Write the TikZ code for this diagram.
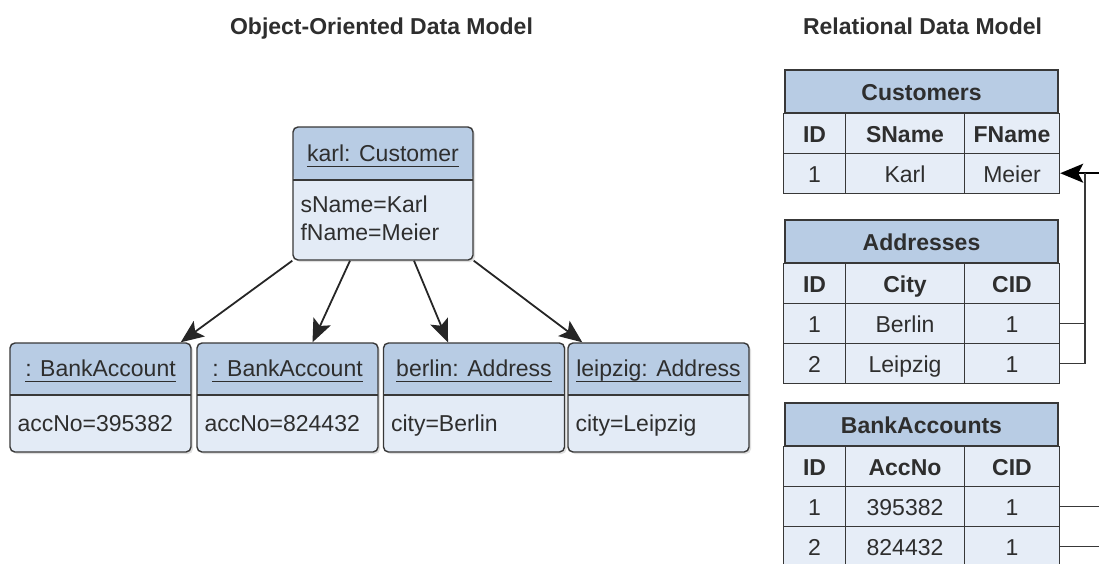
\documentclass[tikz,border=0pt]{standalone}
\usepackage{fontspec}
\setmainfont{Liberation Sans}
\usetikzlibrary{positioning,matrix,shadows,arrows.meta}

\definecolor{headc}{HTML}{B8CCE4}
\definecolor{bodyc}{HTML}{E3EBF6}
\definecolor{rowc}{HTML}{E6EDF7}
\definecolor{linec}{HTML}{383838}
\definecolor{textc}{HTML}{2E2E2E}

\tikzset{
  heading/.style={anchor=base, inner sep=0pt, font=\bfseries, text=textc},
  objbox/.style={draw=linec, line width=1.4pt, rounded corners=5pt, fill=bodyc, inner sep=0pt,
    drop shadow={shadow xshift=2pt, shadow yshift=-2pt, opacity=0.25},
    path picture={
      \fill[headc] (path picture bounding box.north west) rectangle ([yshift=-#1]path picture bounding box.north east);
      \draw[linec, line width=1.4pt] ([yshift=-#1]path picture bounding box.north west) -- ([yshift=-#1]path picture bounding box.north east);
    }},
  objtitle/.style={anchor=base, inner sep=0pt, text=textc},
  objattr/.style={anchor=base west, inner sep=0pt, text=textc},
  uline/.style={draw=textc, line width=1.3pt},
  objarrow/.style={->, line width=1.8pt, draw=black!85},
  tabcell/.style={draw=linec, line width=1.4pt, fill=rowc, minimum height=40, inner sep=0pt,
    anchor=center, text height=18pt, text depth=0pt, text=textc},
  tabhead/.style={tabcell, fill=headc, minimum width=273, minimum height=43, font=\bfseries},
  reltable/.style={matrix of nodes, inner sep=0pt, nodes={tabcell}, column sep=-1.4pt, row sep=-1.4pt,
    column 1/.style={nodes={minimum width=62}},
    column 2/.style={nodes={minimum width=119}},
    column 3/.style={nodes={minimum width=95}},
    row 1/.style={nodes={font=\bfseries}}},
  link/.style={draw=linec, line width=1.4pt}
}

\begin{document}
\fontsize{23}{28}\selectfont
\begin{tikzpicture}[x=1pt, y=-1pt, >={Stealth[length=23pt,width=19pt,inset=5pt]}]
\useasboundingbox (0,0) rectangle (1099,563);

% headings
\node[heading] (oo-title) at (381.5,34) {Object-Oriented Data Model};
\node[heading] (rel-title) at (922.5,34) {Relational Data Model};

% object model
\node[objbox=53, minimum width=180, minimum height=133] (karl) at (383,193.5) {};
\node[objtitle] (karl-t) at ([yshift=-35pt]karl.north) {karl: Customer};
\draw[uline] ([yshift=-5pt]karl-t.base west) -- ([yshift=-5pt]karl-t.base east);
\node[objattr] (karl-a1) at ([xshift=8pt,yshift=-86pt]karl.north west) {sName=Karl};
\node[objattr] (karl-a2) at ([xshift=8pt,yshift=-114pt]karl.north west) {fName=Meier};

\foreach \nm/\cx/\ttl/\attr in {acc1/100.5/{: BankAccount}/{accNo=395382},
    acc2/287.5/{: BankAccount}/{accNo=824432},
    berlin/474/{berlin: Address}/{city=Berlin},
    leipzig/658.5/{leipzig: Address}/{city=Leipzig}}{
  \node[objbox=52, minimum width=181, minimum height=109] (\nm) at (\cx,397.5) {};
  \node[objtitle] (\nm-t) at ([yshift=-34pt]\nm.north) {\ttl};
  \draw[uline] ([yshift=-5pt]\nm-t.base west) -- ([yshift=-5pt]\nm-t.base east);
  \node[objattr] (\nm-a) at ([xshift=8pt,yshift=-89pt]\nm.north west) {\attr};
}

\draw[objarrow] (karl.south west) -- ([xshift=-11pt]acc1.north east);
\draw[objarrow] ([xshift=-33pt]karl.south) -- ([xshift=25pt]acc2.north);
\draw[objarrow] ([xshift=31pt]karl.south) -- ([xshift=-26pt]berlin.north);
\draw[objarrow] (karl.south east) -- ([xshift=15pt]leipzig.north west);

% relational model
\node[tabhead] (custhead) at (921.5,91.5) {Customers};
\matrix[reltable, below=-1.4pt of custhead] (cust) {
  ID & SName & FName \\
  1 & Karl & Meier \\
};

\node[tabhead] (addrhead) at (921.5,241.5) {Addresses};
\matrix[reltable, below=-1.4pt of addrhead] (addr) {
  ID & City & CID \\
  1 & Berlin & 1 \\
  2 & Leipzig & 1 \\
};

\node[tabhead] (bankhead) at (921.5,424.5) {BankAccounts};
\matrix[reltable, below=-1.4pt of bankhead] (bank) {
  ID & AccNo & CID \\
  1 & 395382 & 1 \\
  2 & 824432 & 1 \\
};

% foreign keys
\coordinate (rim) at (1099,0);
\coordinate (trunk) at (1085,0);
\coordinate (custin) at (cust-2-3.east -| rim);
\draw[link,->,line width=1.8pt,draw=black] (custin) -- (cust-2-3.east);
\draw[link] (addr-3-3.east) -| (custin -| trunk);
\draw[link] (addr-2-3.east) -- (addr-2-3.east -| trunk);
\draw[link] (bank-2-3.east) -- (bank-2-3.east -| rim);
\draw[link] (bank-3-3.east) -- (bank-3-3.east -| rim);
\end{tikzpicture}
\end{document}
